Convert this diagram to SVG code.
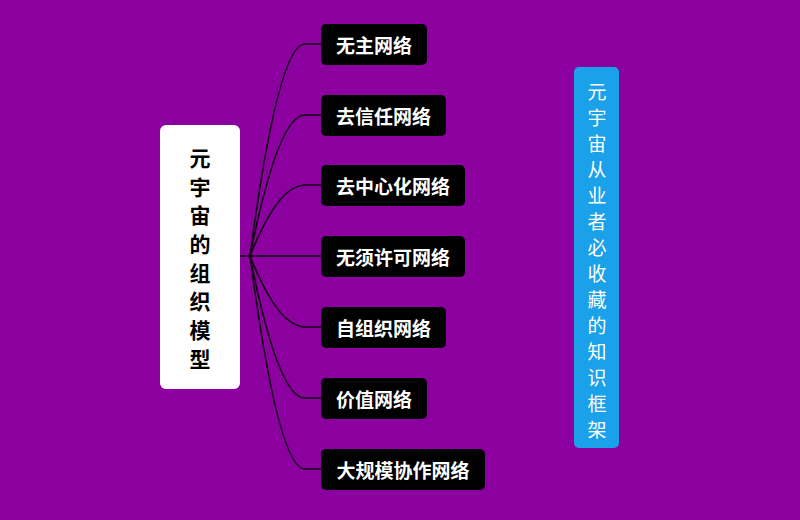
<svg xmlns="http://www.w3.org/2000/svg" width="800" height="520" viewBox="0 0 800 520">
<style>
.bg{fill:#8B009E}
.conn{fill:none;stroke:#120014;stroke-width:1.6}
.child rect{fill:#000}
.child text{fill:#fff;font-family:"Noto Sans CJK SC","Noto Sans",sans-serif;font-size:19px;font-weight:bold;text-anchor:middle;dominant-baseline:central}
.vt{font-family:"Noto Sans CJK SC","Noto Sans",sans-serif;text-anchor:middle;dominant-baseline:central}
</style>
<rect class="bg" x="0" y="0" width="800" height="520"/>
<g id="connectors">
<path class="conn" d="M240,256 L250,256 Q278,44 305,44 L321,44"/>
<path class="conn" d="M250,256 Q278,115 305,115 L321,115"/>
<path class="conn" d="M250,256 Q278,185 305,185 L321,185"/>
<path class="conn" d="M250,256 L321,256"/>
<path class="conn" d="M250,256 Q278,327 305,327 L321,327"/>
<path class="conn" d="M250,256 Q278,398 305,398 L321,398"/>
<path class="conn" d="M250,256 Q278,469 305,469 L321,469"/>
</g>
<g id="root">
<rect x="160" y="125" width="80" height="264" rx="6" fill="#fff"/>
<g class="vt" font-size="21" font-weight="bold" fill="#000">
<text x="200" y="157">元</text>
<text x="200" y="186">宇</text>
<text x="200" y="214">宙</text>
<text x="200" y="243">的</text>
<text x="200" y="272">组</text>
<text x="200" y="300">织</text>
<text x="200" y="329">模</text>
<text x="200" y="358">型</text>
</g>
</g>
<g id="n1" class="child"><rect x="321" y="24" width="106" height="41" rx="5"/><text x="374" y="44.5">无主网络</text></g>
<g id="n2" class="child"><rect x="321" y="95" width="125" height="41" rx="5"/><text x="383.5" y="115.5">去信任网络</text></g>
<g id="n3" class="child"><rect x="321" y="165" width="144" height="41" rx="5"/><text x="393" y="185.5">去中心化网络</text></g>
<g id="n4" class="child"><rect x="321" y="236" width="144" height="41" rx="5"/><text x="393" y="256.5">无须许可网络</text></g>
<g id="n5" class="child"><rect x="321" y="307" width="125" height="41" rx="5"/><text x="383.5" y="327.5">自组织网络</text></g>
<g id="n6" class="child"><rect x="321" y="378" width="106" height="41" rx="5"/><text x="374" y="398.5">价值网络</text></g>
<g id="n7" class="child"><rect x="321" y="449" width="164" height="41" rx="5"/><text x="403" y="469.5">大规模协作网络</text></g>
<g id="side">
<rect x="574" y="67" width="45" height="381" rx="5" fill="#1BA0EA"/>
<g class="vt" font-size="19" fill="#fff">
<text x="597" y="90">元</text>
<text x="597" y="116">宇</text>
<text x="597" y="142">宙</text>
<text x="597" y="168">从</text>
<text x="597" y="194">业</text>
<text x="597" y="220">者</text>
<text x="597" y="246">必</text>
<text x="597" y="272">收</text>
<text x="597" y="298">藏</text>
<text x="597" y="324">的</text>
<text x="597" y="350">知</text>
<text x="597" y="376">识</text>
<text x="597" y="402">框</text>
<text x="597" y="428">架</text>
</g>
</g>
</svg>
